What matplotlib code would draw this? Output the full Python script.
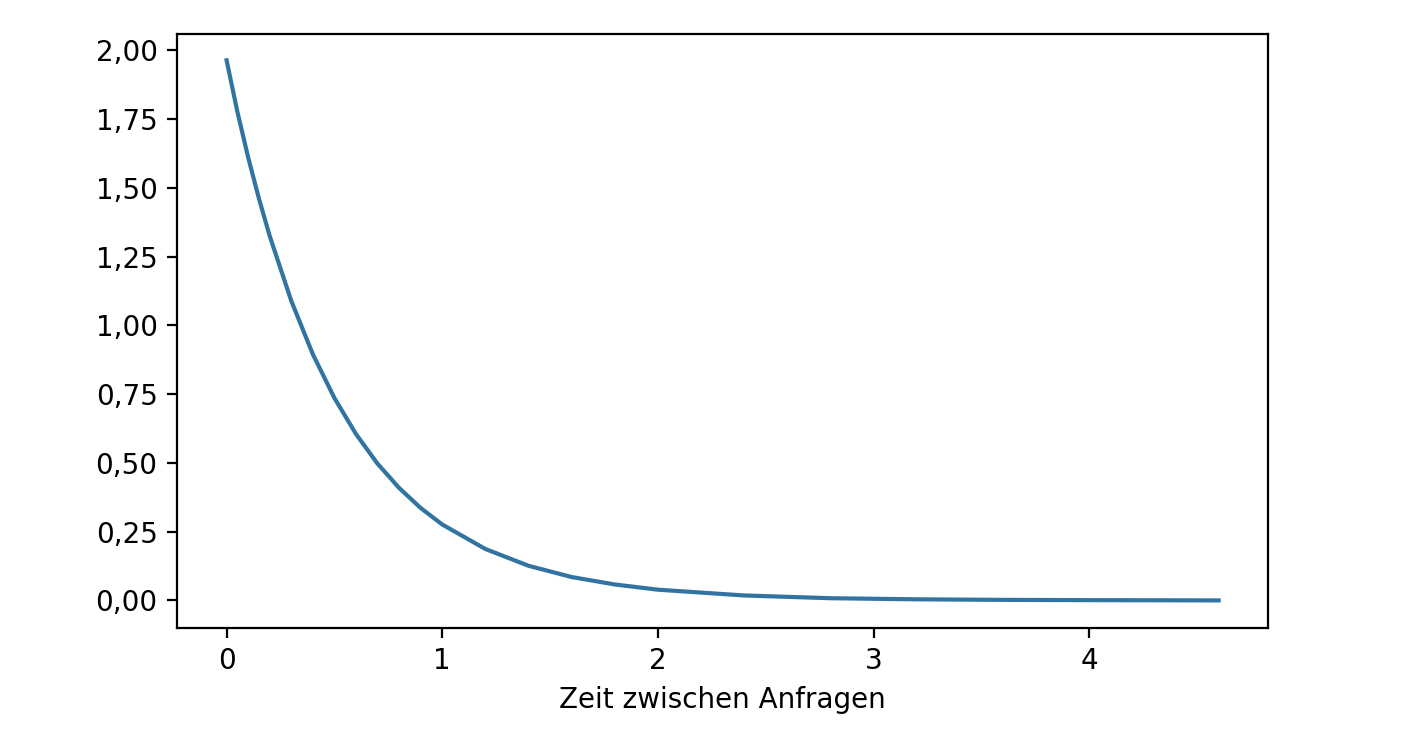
import matplotlib
matplotlib.use("Agg")
import matplotlib.pyplot as plt
from matplotlib.ticker import FuncFormatter

# values
zeit = [0, 0.05, 0.1, 0.15, 0.2, 0.3, 0.4, 0.5, 0.6, 0.7, 0.8, 0.9, 1.0,
        1.2, 1.4, 1.6, 1.8, 2.0, 2.4, 2.8, 3.2, 3.6, 4.0, 4.6]
dichte = [1.964, 1.777, 1.611, 1.461, 1.325, 1.089, 0.895, 0.736, 0.605,
          0.497, 0.409, 0.336, 0.276, 0.187, 0.126, 0.085, 0.058, 0.039,
          0.018, 0.008, 0.004, 0.002, 0.001, 0.000]

fig = plt.figure(figsize=(7.04, 3.76), dpi=200)
ax = fig.add_axes([0.1257, 0.165, 0.775, 0.79])
ax.plot(zeit, dichte, color="#3274a1", linewidth=1.5)

ax.set_yticks([0, 0.25, 0.5, 0.75, 1.0, 1.25, 1.5, 1.75, 2.0])
ax.yaxis.set_major_formatter(FuncFormatter(lambda v, p: f"{v:.2f}".replace(".", ",")))
ax.set_xticks([0, 1, 2, 3, 4])
ax.set_xlim(-0.23, 4.83)
ax.set_ylim(-0.1, 2.06)
ax.set_xlabel("Zeit zwischen Anfragen")

fig.savefig("out.png", dpi=200)
